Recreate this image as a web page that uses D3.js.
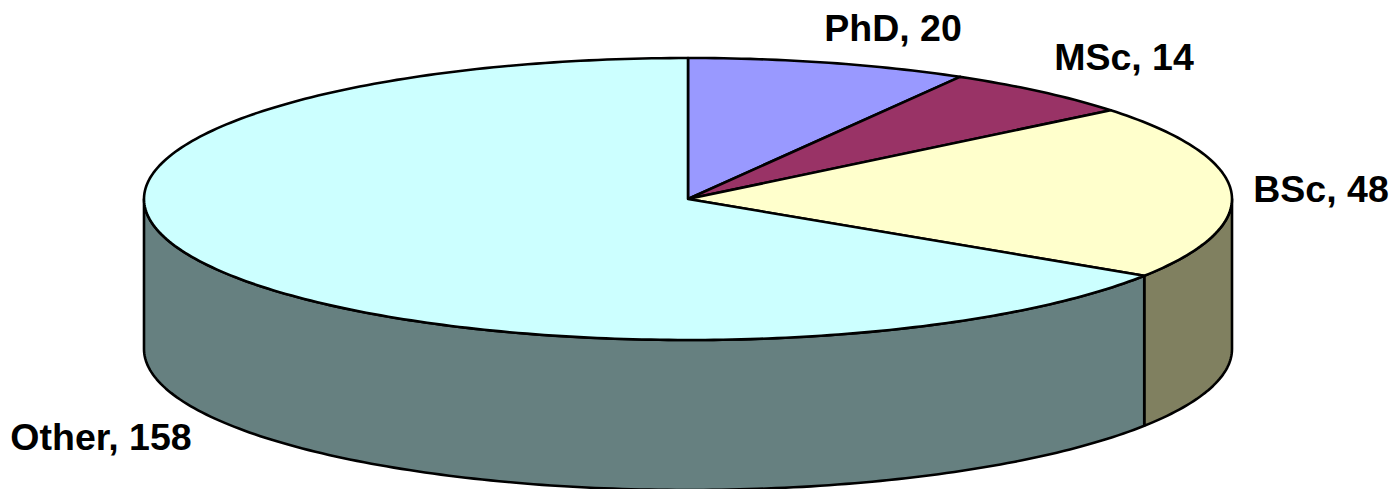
<!DOCTYPE html>
<html><head><meta charset="utf-8">
<script src="https://cdn.jsdelivr.net/npm/d3@7/dist/d3.min.js"></script>
<style>html,body{margin:0;background:#fff}svg{display:block}</style></head>
<body><svg id="c" width="1393" height="489"></svg>
<script>
const categories = ["PhD","MSc","BSc","Other"];
const values = [20,14,48,158];
const topColors = ["#9999ff","#993366","#ffffcc","#ccffff"];
const sideColors = ["#6b6bb3","#6b2447","#808060","#668080"];
const labelX = [893,1124,1321,101];
const labelY = [29,58,190,438];

const W=1393,H=489,cx=688,cy=199,rx=544,ry=141,depth=150,sw=2.6;
const svg=d3.select("#c");
const arcs=d3.pie().sort(null)(values);
const px=a=>cx+rx*Math.sin(a), py=a=>cy-ry*Math.cos(a);
function arcPts(a0,a1,dy=0){
  const n=Math.max(2,Math.ceil((a1-a0)*60));
  return d3.range(n+1).map(i=>{const a=a0+(a1-a0)*i/n;return [px(a),py(a)+dy];});
}
const line=d3.line();
arcs.forEach((d,i)=>{
  const a0=Math.max(d.startAngle,Math.PI/2), a1=Math.min(d.endAngle,3*Math.PI/2);
  if(a1<=a0) return;
  const t=arcPts(a0,a1), b=arcPts(a0,a1,depth).reverse();
  svg.append("path").attr("d",line(t.concat(b))+"Z").attr("fill",sideColors[i])
    .attr("stroke","#000").attr("stroke-width",sw).attr("stroke-linejoin","round");
});
arcs.forEach((d,i)=>{
  svg.append("path").attr("d",line([[cx,cy]].concat(arcPts(d.startAngle,d.endAngle)))+"Z")
    .attr("fill",topColors[i]).attr("stroke","#000").attr("stroke-width",sw).attr("stroke-linejoin","round");
});
categories.forEach((c,i)=>{
  svg.append("text").attr("x",labelX[i]).attr("y",labelY[i]+12).attr("text-anchor","middle")
    .attr("font-family","'Liberation Sans',Arial,sans-serif").attr("font-weight","bold").attr("font-size",37.5)
    .attr("fill","#000").text(c+", "+values[i]);
});
</script></body></html>
